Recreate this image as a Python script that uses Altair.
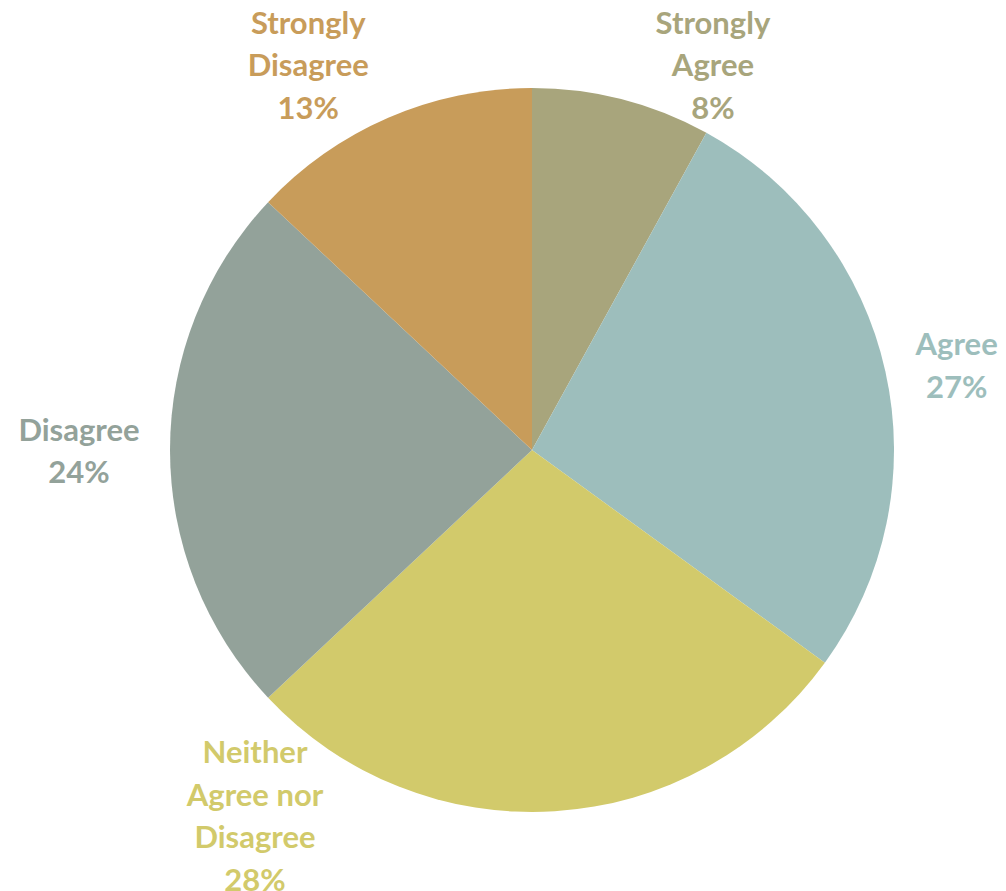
import math
import altair as alt
import pandas as pd

# ---- data ----
categories = ["Strongly Agree", "Agree", "Neither Agree nor Disagree", "Disagree", "Strongly Disagree"]
label_lines = ["Strongly|Agree", "Agree", "Neither|Agree nor|Disagree", "Disagree", "Strongly|Disagree"]
percents = [8, 27, 28, 24, 13]

# ---- styles ----
colors = ["#A8A57C", "#9DBEBC", "#D2CA6B", "#93A29A", "#C89C5A"]
label_offsets = {
    "Strongly Agree": (74, 34),
    "Agree": (5, 11),
    "Neither Agree nor Disagree": (-304, -61),
    "Disagree": (-23, 3),
    "Strongly Disagree": (-53, 12),
}
CX, CY = 524, 442
R = 362
LABEL_R = 430
LINE_H = 42.7

df = pd.DataFrame({
    "category": categories,
    "label": label_lines,
    "value": percents,
    "order": list(range(len(categories))),
})

color_scale = alt.Scale(domain=categories, range=colors)

pie = alt.Chart(df).mark_arc(outerRadius=R, stroke=None).encode(
    theta=alt.Theta("value:Q", stack=True),
    order=alt.Order("order:Q"),
    color=alt.Color("category:N", scale=color_scale, legend=None),
    x=alt.value(CX),
    y=alt.value(CY),
)

text_base = alt.Chart(df).transform_window(
    cum="sum(value)", sort=[alt.SortField("order")], frame=[None, 0]
).transform_calculate(
    mid="datum.cum - datum.value / 2",
    lines="split(datum.label + '|' + datum.value + '%', '|')",
)

layers = [pie]
for cat, lab in zip(categories, label_lines):
    dx, dy = label_offsets[cat]
    n_lines = len(lab.split("|")) + 1
    dy = dy - (n_lines - 1) * LINE_H / 2
    t = text_base.transform_filter(alt.datum.category == cat).mark_text(
        radius=LABEL_R, fontSize=31, fontWeight="bold", font="Lato",
        lineHeight=LINE_H, align="center", baseline="middle", dx=dx, dy=dy,
    ).encode(
        theta=alt.Theta("mid:Q", scale=alt.Scale(domain=[0, 100], range=[0, 2 * math.pi])),
        text=alt.Text("lines:N"),
        color=alt.Color("category:N", scale=color_scale, legend=None),
        x=alt.value(CX),
        y=alt.value(CY),
    )
    layers.append(t)

chart = alt.layer(*layers).resolve_scale(theta="independent").properties(
    width=990, height=883, padding=0, autosize=alt.AutoSizeParams(type="none"),
).configure_view(stroke=None)

chart.save("out.html", embed_options={"renderer": "svg", "actions": False})
